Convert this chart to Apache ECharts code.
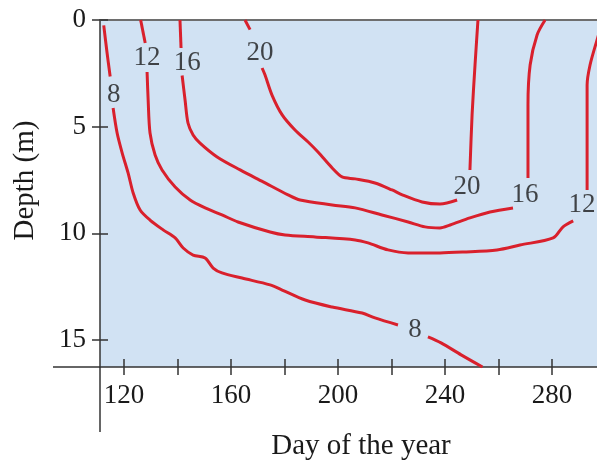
<!DOCTYPE html>
<html>
<head>
<meta charset="utf-8">
<script src="https://cdn.jsdelivr.net/npm/echarts@6/dist/echarts.min.js"></script>
<style>html,body{margin:0;padding:0;background:#fff;}#c{width:597px;height:468px;}</style>
</head>
<body>
<div id="c"></div>
<script>
// Axis ticks / labels
const xLabelValues = [120, 160, 200, 240, 280];
const xTickValues = [120, 140, 160, 180, 200, 220, 240, 260, 280];
const yLabelValues = [0, 5, 10, 15];
const xMin = 111, xMax = 296.8, yMin = 0, yMax = 16.27;

// Isotherm 8 (°C), segments split where labels sit: [day, depth]
const iso8a = [[112.4,0.25],[113.6,1.5],[114.8,2.65]];
const iso8b = [[115.9,4.13],[117.4,5.3],[119.3,6.24],[121.5,7.17],[123.4,8.11],[126.0,8.91],[129.7,9.38],[134.6,9.84],[139.1,10.22],[142.1,10.69],[145.8,11.02],[150.3,11.16],[153.3,11.63],[156.6,11.86],[164.1,12.1],[174.6,12.42],[179.1,12.66],[187.7,13.13],[197.8,13.46],[209.0,13.74],[213.8,13.97],[222.4,14.3]];
const iso8c = [[233.6,14.86],[238.5,15.14],[246.0,15.7],[254.0,16.27]];
// Isotherm 12
const iso12a = [[126.2,0],[127.9,1.08]];
const iso12b = [[128.6,2.44],[129.0,3.75],[129.7,5.3],[131.6,6.33],[134.2,7.03],[139.1,7.83],[144.7,8.44],[150.3,8.81],[156.6,9.14],[162.6,9.47],[174.6,9.94],[180.2,10.08],[191.4,10.17],[206.4,10.31],[211.2,10.45],[218.7,10.78],[226.2,10.92],[238.1,10.92],[246.7,10.88],[259.4,10.78],[268.0,10.55],[280.4,10.22],[284.1,9.7],[287.9,9.42]];
const iso12c = [[293.1,7.97],[293.1,5.5],[293.1,3.05],[294.2,2.11],[296.8,0.94],[299,0]];
// Isotherm 16
const iso16a = [[140.9,0],[141.3,1.31]];
const iso16b = [[141.7,2.6],[142.8,3.75],[143.9,4.83],[145.8,5.39],[148.4,5.77],[154.8,6.42],[163.4,7.03],[172.0,7.59],[181.3,8.2],[185.8,8.44],[197.8,8.67],[206.4,8.81],[216.4,9.14],[226.2,9.47],[232.5,9.7],[238.1,9.75],[241.9,9.61],[249.3,9.28],[256.8,9.0],[265.4,8.81]];
const iso16c = [[271.0,7.41],[271.0,3.98],[271.8,2.11],[274.4,0.7],[277.4,0]];
// Isotherm 20
const iso20a = [[165.2,0],[167.1,0.45]];
const iso20b = [[171.6,2.25],[172.7,2.58],[175.3,3.52],[179.1,4.45],[183.9,5.16],[188.8,5.72],[192.5,6.19],[197.8,6.94],[201.5,7.36],[206.4,7.45],[213.8,7.64],[220.2,7.97],[224.0,8.2],[231.4,8.53],[238.1,8.63],[244.5,8.44]];
const iso20c = [[249.3,7.03],[250.1,4.45],[251.2,2.11],[252.3,0]];

// Contour labels: [day, depth, text]
const contourLabels = [
  [116.1,3.5,'8'],[128.6,1.78,'12'],[143.6,2.02,'16'],[170.8,1.55,'20'],
  [248.2,7.83,'20'],[269.9,8.2,'16'],[291.2,8.67,'12'],[228.8,14.53,'8']
];

const segments = [iso8a, iso8b, iso8c, iso12a, iso12b, iso12c, iso16a, iso16b, iso16c, iso20a, iso20b, iso20c];

const FONT = '"Liberation Serif", "DejaVu Serif", serif';
const TXT = '#1a1a1a';
const RED = '#d9202c';

const lineSeries = segments.map(s => ({
  type: 'line', data: s, xAxisIndex: 0, yAxisIndex: 0,
  showSymbol: false, symbol: 'none', smooth: 0.3, clip: true,
  lineStyle: { color: RED, width: 3 }, silent: true, z: 3
}));

const chart = echarts.init(document.getElementById('c'), null, { renderer: 'canvas' });
const commonX = { type: 'value', min: xMin, max: xMax, splitLine: { show: false } };
const commonY = { type: 'value', min: yMin, max: yMax, inverse: true, splitLine: { show: false } };

chart.setOption({
  animation: false,
  backgroundColor: '#fff',
  grid: { left: 100, top: 20, right: 0, bottom: 101, show: true, backgroundColor: '#d1e2f3', borderWidth: 0 },
  xAxis: [
    Object.assign({}, commonX, {
      position: 'bottom',
      name: 'Day of the year', nameLocation: 'middle', nameGap: 65,
      nameTextStyle: { fontFamily: FONT, fontSize: 29, color: TXT, padding: [0, 0, 0, 25] },
      axisLine: { show: true, onZero: false, lineStyle: { color: '#333', width: 1.5 } },
      axisTick: { show: true, inside: false, length: 8, customValues: xTickValues, lineStyle: { color: '#333', width: 1.5 } },
      axisLabel: { show: true, customValues: xLabelValues, margin: 15, fontFamily: FONT, fontSize: 27, color: TXT }
    }),
    Object.assign({}, commonX, {
      position: 'bottom',
      axisLine: { show: false, onZero: false },
      axisTick: { show: true, inside: true, length: 8, customValues: xTickValues, lineStyle: { color: '#333', width: 1.5 } },
      axisLabel: { show: false }
    }),
    Object.assign({}, commonX, {
      position: 'top',
      axisLine: { show: true, onZero: false, lineStyle: { color: '#6e6e6e', width: 2 } },
      axisTick: { show: false }, axisLabel: { show: false }
    })
  ],
  yAxis: [
    Object.assign({}, commonY, {
      position: 'left',
      name: 'Depth (m)', nameLocation: 'middle', nameGap: 60,
      nameTextStyle: { fontFamily: FONT, fontSize: 29, color: TXT, padding: [0, 0, 0, 26] },
      axisLine: { show: true, onZero: false, lineStyle: { color: '#333', width: 1.5 } },
      axisTick: { show: true, inside: false, length: 8, customValues: yLabelValues, lineStyle: { color: '#333', width: 1.5 } },
      axisLabel: { show: true, customValues: yLabelValues, margin: 14, fontFamily: FONT, fontSize: 27, color: TXT }
    }),
    Object.assign({}, commonY, {
      position: 'left',
      axisLine: { show: false, onZero: false },
      axisTick: { show: true, inside: true, length: 8, customValues: yLabelValues, lineStyle: { color: '#333', width: 1.5 } },
      axisLabel: { show: false }
    })
  ],
  graphic: [
    { type: 'line', shape: { x1: 53, y1: 367, x2: 100, y2: 367 }, style: { stroke: '#333', lineWidth: 1.5 }, z: 10 },
    { type: 'line', shape: { x1: 100, y1: 367, x2: 100, y2: 432 }, style: { stroke: '#333', lineWidth: 1.5 }, z: 10 }
  ],
  series: lineSeries.concat([{
    type: 'scatter', data: contourLabels, xAxisIndex: 0, yAxisIndex: 0,
    symbolSize: 1, itemStyle: { color: 'rgba(0,0,0,0)' }, silent: true, z: 5,
    label: { show: true, position: 'inside', formatter: p => p.data[2], fontFamily: FONT, fontSize: 27, color: TXT }
  }])
});
</script>
</body>
</html>
